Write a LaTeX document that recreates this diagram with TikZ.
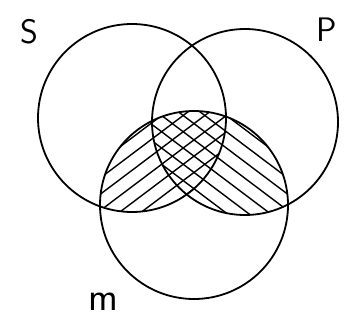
\documentclass[tikz,border=0pt]{standalone}
\usepackage{tikz}
\tikzset{
  ring/.style={line width=1.8pt},
  hatch/.style={line width=1.4pt},
  letter/.style={font=\sffamily\fontsize{34}{34}\selectfont,inner sep=0pt},
}

\begin{document}
\begin{tikzpicture}[x=1pt,y=-1pt]
    \useasboundingbox (0,0) rectangle (345,329);
    \coordinate (cs) at (132,118);
    \coordinate (cp) at (245,122);
    \coordinate (cm) at (194,205);
    % S and M: lines rising to the right
    \begin{scope}
      \clip (cs) circle[radius=94];
      \clip (cm) circle[radius=94];
      \foreach \d in {-208,-195,...,208}
        \draw[hatch,shift={(cm)},rotate=37] (-200,\d) -- (200,\d);
    \end{scope}
    % P and M: lines falling to the right
    \begin{scope}
      \clip (cp) circle[radius=93];
      \clip (cm) circle[radius=94];
      \foreach \d in {-208,-195,...,208}
        \draw[hatch,shift={(cm)},rotate=-37] (-200,\d) -- (200,\d);
    \end{scope}
    \draw[ring] (cs) circle[radius=94];
    \draw[ring] (cp) circle[radius=93];
    \draw[ring] (cm) circle[radius=94];
    \node[letter] (s) at (29,32) {S};
    \node[letter] (p) at (327,30) {P};
    \node[letter,font=\sffamily\fontsize{40}{40}\selectfont] (m) at (103,302) {m};
  \end{tikzpicture}
\end{document}
